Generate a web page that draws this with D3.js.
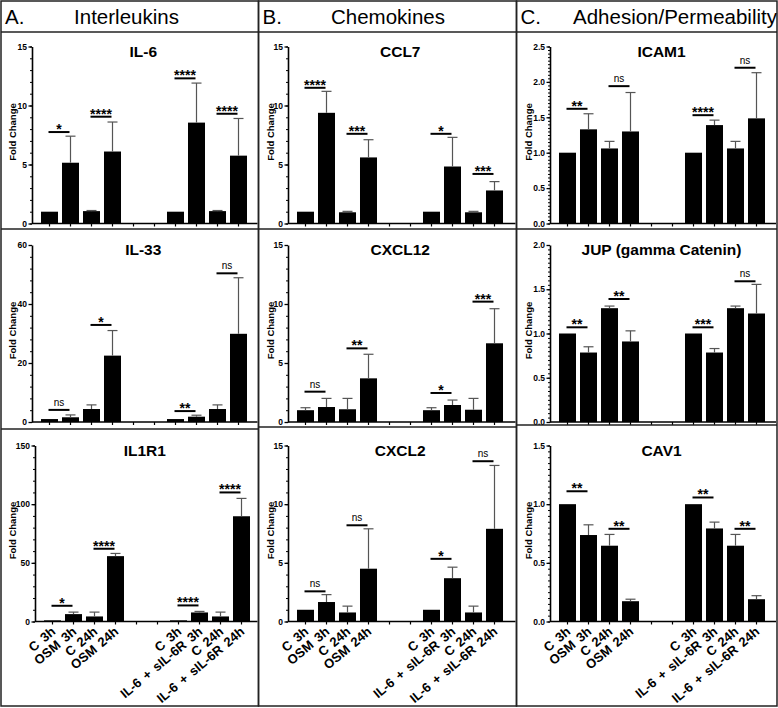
<!DOCTYPE html>
<html>
<head>
<meta charset="utf-8">
<script src="https://cdn.jsdelivr.net/npm/d3@7"></script>
<style>
  body { margin: 0; background: #fff; }
  svg { display: block; font-family: "Liberation Sans", Arial, Helvetica, sans-serif; }
</style>
</head>
<body>
<svg id="chart" width="778" height="708"></svg>
<script>
// x categories, slots 4 and 5 are the empty spacers between the two treatments
const xLabels = ["C 3h", "OSM 3h", "C 24h", "OSM 24h", "", "", "C 3h", "IL-6 + sIL-6R 3h", "C 24h", "IL-6 + sIL-6R 24h"];
const sigPairs = [[0, 1], [2, 3], [6, 7], [8, 9]];

const sectionLetters = ["A.", "B.", "C."];
const sectionTitles = ["Interleukins", "Chemokines", "Adhesion/Permeability"];

// A. Interleukins
const il6Mean = [1.0, 5.15, 1.05, 6.1, null, null, 1.0, 8.55, 1.05, 5.75];
const il6Err = [0, 2.25, 0.05, 2.5, null, null, 0, 3.35, 0.05, 3.15];
const il6Sig = ["*", "****", "****", "****"];
const il6SigAt = [7.75, 9.05, 12.3, 9.3];
const il6Ticks = [0, 5, 10, 15];

const il33Mean = [1.0, 1.6, 4.4, 22.5, null, null, 1.0, 1.8, 4.4, 29.9];
const il33Err = [0, 0.8, 1.4, 8.5, null, null, 0, 0.5, 1.4, 19.0];
const il33Sig = ["ns", "*", "**", "ns"];
const il33SigAt = [4.1, 32.9, 3.7, 50.4];
const il33Ticks = [0, 20, 40, 60];

const il1r1Mean = [1.0, 6.3, 4.3, 55.7, null, null, 1.0, 7.7, 4.3, 89.7];
const il1r1Err = [0, 1.7, 3.7, 2.3, null, null, 0, 0.9, 3.7, 15.2];
const il1r1Sig = ["*", "****", "****", "****"];
const il1r1SigAt = [13.4, 62, 13.7, 110];
const il1r1Ticks = [0, 50, 100, 150];

// B. Chemokines
const ccl7Mean = [1.0, 9.38, 0.95, 5.6, null, null, 1.0, 4.83, 0.95, 2.8];
const ccl7Err = [0, 1.82, 0.08, 1.5, null, null, 0, 2.47, 0.08, 0.75];
const ccl7Sig = ["****", "***", "*", "***"];
const ccl7SigAt = [11.5, 7.6, 7.6, 4.2];
const ccl7Ticks = [0, 5, 10, 15];

const cxcl12Mean = [1.0, 1.27, 1.08, 3.7, null, null, 1.0, 1.44, 1.04, 6.67];
const cxcl12Err = [0.21, 0.73, 0.92, 2.04, null, null, 0.21, 0.42, 0.96, 2.93];
const cxcl12Sig = ["ns", "**", "*", "***"];
const cxcl12SigAt = [2.57, 6.24, 2.46, 10.2];
const cxcl12Ticks = [0, 5, 10, 15];

const cxcl2Mean = [1.0, 1.66, 0.77, 4.5, null, null, 1.0, 3.69, 0.77, 7.9];
const cxcl2Err = [0, 0.63, 0.54, 3.4, null, null, 0, 0.94, 0.54, 5.4];
const cxcl2Sig = ["ns", "ns", "*", "ns"];
const cxcl2SigAt = [2.57, 8.2, 5.34, 13.66];
const cxcl2Ticks = [0, 5, 10, 15];

// C. Adhesion / Permeability
const icam1Mean = [1.0, 1.33, 1.06, 1.3, null, null, 1.0, 1.39, 1.06, 1.485];
const icam1Err = [0, 0.22, 0.1, 0.55, null, null, 0, 0.07, 0.1, 0.645];
const icam1Sig = ["**", "ns", "****", "ns"];
const icam1SigAt = [1.62, 1.94, 1.53, 2.2];
const icam1Ticks = [0, 0.5, 1.0, 1.5, 2.0, 2.5];

const jupMean = [1.0, 0.785, 1.286, 0.91, null, null, 1.0, 0.785, 1.286, 1.226];
const jupErr = [0, 0.065, 0.024, 0.12, null, null, 0, 0.045, 0.024, 0.329];
const jupSig = ["**", "**", "***", "ns"];
const jupSigAt = [1.07, 1.39, 1.07, 1.59];
const jupTicks = [0, 0.5, 1.0, 1.5, 2.0];

const cav1Mean = [1.0, 0.737, 0.646, 0.173, null, null, 1.0, 0.793, 0.646, 0.19];
const cav1Err = [0, 0.087, 0.096, 0.017, null, null, 0, 0.054, 0.096, 0.03];
const cav1Sig = ["**", "**", "**", "**"];
const cav1SigAt = [1.11, 0.79, 1.057, 0.79];
const cav1Ticks = [0, 0.5, 1.0, 1.5];

const intFmt = d3.format("d");
const decFmt = d3.format(".1f");

const panels = [
    [
        { name: "IL-6", mean: il6Mean, err: il6Err, sig: il6Sig, sigAt: il6SigAt, ticks: il6Ticks, fmt: intFmt },
        { name: "IL-33", mean: il33Mean, err: il33Err, sig: il33Sig, sigAt: il33SigAt, ticks: il33Ticks, fmt: intFmt },
        { name: "IL1R1", mean: il1r1Mean, err: il1r1Err, sig: il1r1Sig, sigAt: il1r1SigAt, ticks: il1r1Ticks, fmt: intFmt }
    ],
    [
        { name: "CCL7", mean: ccl7Mean, err: ccl7Err, sig: ccl7Sig, sigAt: ccl7SigAt, ticks: ccl7Ticks, fmt: intFmt },
        { name: "CXCL12", mean: cxcl12Mean, err: cxcl12Err, sig: cxcl12Sig, sigAt: cxcl12SigAt, ticks: cxcl12Ticks, fmt: intFmt },
        { name: "CXCL2", mean: cxcl2Mean, err: cxcl2Err, sig: cxcl2Sig, sigAt: cxcl2SigAt, ticks: cxcl2Ticks, fmt: intFmt }
    ],
    [
        { name: "ICAM1", mean: icam1Mean, err: icam1Err, sig: icam1Sig, sigAt: icam1SigAt, ticks: icam1Ticks, fmt: decFmt },
        { name: "JUP (gamma Catenin)", mean: jupMean, err: jupErr, sig: jupSig, sigAt: jupSigAt, ticks: jupTicks, fmt: decFmt },
        { name: "CAV1", mean: cav1Mean, err: cav1Err, sig: cav1Sig, sigAt: cav1SigAt, ticks: cav1Ticks, fmt: decFmt }
    ]
];

// layout
const cols = [
    { x0: 1, x1: 258.5, axisX: [32, 32, 35], rowSep: [229, 429], titleX: 125.5, minor: 5 },
    { x0: 258.5, x1: 516.5, axisX: [288, 288, 288], rowSep: [229, 427], titleX: 129.5, minor: 5 },
    { x0: 516.5, x1: 777, axisX: [550, 550, 550], rowSep: [229, 425], titleX: 158.5, minor: 10 }
];
const rowTop = [46.5, 245, 445.5];
const rowBottom = [223.5, 422, 621.5];
const headerBottom = 32;
const figBottom = 706;

const svg = d3.select("#chart");

const drawPanel = (g, p, axisX, right, yTop, yBot, minor, showLabels) => {
    const x = d3.scaleBand()
        .domain(d3.range(xLabels.length))
        .range([axisX + 7, axisX + 217])
        .paddingInner(0.19)
        .paddingOuter(0.095);
    const yMax = d3.max(p.ticks);
    const y = d3.scaleLinear().domain([0, yMax]).range([yBot, yTop]);
    const bw = x.bandwidth();
    const cx = i => x(i) + bw / 2;

    const idx = d3.range(xLabels.length).filter(i => p.mean[i] != null);

    // bars
    g.selectAll("rect.bar")
        .data(idx)
        .join("rect")
        .attr("class", "bar")
        .attr("x", i => x(i))
        .attr("width", bw)
        .attr("y", i => y(p.mean[i]))
        .attr("height", i => yBot - y(p.mean[i]))
        .attr("fill", "#000");

    // error bars (upper only)
    const eb = g.selectAll("g.err")
        .data(idx.filter(i => p.err[i] > 0))
        .join("g")
        .attr("class", "err")
        .attr("stroke", "#555")
        .attr("stroke-width", 1.2);
    eb.append("line")
        .attr("x1", cx).attr("x2", cx)
        .attr("y1", i => y(p.mean[i]))
        .attr("y2", i => y(p.mean[i] + p.err[i]));
    eb.append("line")
        .attr("x1", i => cx(i) - 5).attr("x2", i => cx(i) + 5)
        .attr("y1", i => y(p.mean[i] + p.err[i]))
        .attr("y2", i => y(p.mean[i] + p.err[i]));

    // y axis with minor ticks
    const step = p.ticks[1] - p.ticks[0];
    const minorVals = d3.range(0, yMax + step / (2 * minor), step / minor);
    g.append("g")
        .attr("transform", `translate(${axisX},0)`)
        .call(d3.axisLeft(y).tickValues(minorVals).tickSize(2).tickSizeOuter(0).tickFormat(""))
        .call(a => a.select(".domain").remove())
        .call(a => a.selectAll("line").attr("stroke-width", 1));
    g.append("g")
        .attr("transform", `translate(${axisX},0)`)
        .call(d3.axisLeft(y).tickValues(p.ticks).tickSize(3.5).tickSizeOuter(0).tickPadding(1.5).tickFormat(p.fmt))
        .call(a => a.select(".domain").attr("stroke-width", 1.6))
        .call(a => a.selectAll("line").attr("stroke-width", 1.3))
        .call(a => a.selectAll("text")
            .attr("font-size", 8.5)
            .attr("font-weight", "bold")
            .attr("fill", "#000"));

    // x axis
    const xa = g.append("g")
        .attr("transform", `translate(0,${yBot})`)
        .call(d3.axisBottom(x).tickSize(3).tickSizeOuter(0).tickFormat(i => showLabels ? xLabels[i] : ""));
    xa.select(".domain").remove();
    xa.selectAll("line").attr("stroke-width", 1.2);
    xa.append("line")
        .attr("x1", axisX).attr("x2", right - 1)
        .attr("y1", 0).attr("y2", 0)
        .attr("stroke", "#000")
        .attr("stroke-width", 1.6);
    if (showLabels) {
        xa.selectAll(".tick text")
            .attr("x", 0).attr("y", 0)
            .attr("dy", "0.35em")
            .attr("text-anchor", "end")
            .attr("transform", "translate(1,8) rotate(-40)")
            .attr("font-size", 13)
            .attr("font-weight", "bold")
            .attr("word-spacing", 2)
            .attr("fill", "#000");
    }

    // significance brackets
    const sg = g.selectAll("g.sig")
        .data(sigPairs.map((pr, k) => ({ a: pr[0], b: pr[1], label: p.sig[k], at: p.sigAt[k] })))
        .join("g")
        .attr("class", "sig");
    sg.append("line")
        .attr("x1", d => cx(d.a) - 1).attr("x2", d => cx(d.b) - 1)
        .attr("y1", d => y(d.at)).attr("y2", d => y(d.at))
        .attr("stroke", "#000")
        .attr("stroke-width", 2);
    sg.append("text")
        .attr("x", d => (cx(d.a) + cx(d.b)) / 2 - 1)
        .attr("y", d => d.label === "ns" ? y(d.at) - 4 : y(d.at) + 2)
        .attr("text-anchor", "middle")
        .attr("font-size", d => d.label === "ns" ? 10 : 14)
        .attr("font-weight", d => d.label === "ns" ? "normal" : "bold")
        .text(d => d.label);

    // title
    g.append("text")
        .attr("x", (axisX + right) / 2 - 2)
        .attr("y", yTop + 10)
        .attr("text-anchor", "middle")
        .attr("font-size", 15.5)
        .attr("font-weight", "bold")
        .text(p.name);
};

cols.forEach((c, ci) => {
    const col = svg.append("g");

    // header
    col.append("text")
        .attr("x", c.x0 + 4)
        .attr("y", 24)
        .attr("font-size", 20.5)
        .text(sectionLetters[ci]);
    col.append("text")
        .attr("x", c.x0 + c.titleX)
        .attr("y", 24)
        .attr("text-anchor", "middle")
        .attr("font-size", 20.5)
        .text(sectionTitles[ci]);

    panels[ci].forEach((p, ri) => {
        const g = col.append("g");
        drawPanel(g, p, c.axisX[ri], c.x1, rowTop[ri], rowBottom[ri], c.minor, ri === 2);
        g.append("text")
            .attr("transform", `translate(${c.x0 + 15},${(rowTop[ri] + rowBottom[ri]) / 2 - 3}) rotate(-90)`)
            .attr("text-anchor", "middle")
            .attr("font-size", 9.5)
            .attr("font-weight", "bold")
            .text("Fold Change");
    });

    // borders
    const border = col.append("g")
        .attr("stroke", "#222")
        .attr("stroke-width", 1.5)
        .attr("fill", "none");
    border.append("rect")
        .attr("x", c.x0).attr("y", 1)
        .attr("width", c.x1 - c.x0).attr("height", figBottom - 1);
    [headerBottom, ...c.rowSep].forEach(yy => {
        border.append("line")
            .attr("x1", c.x0).attr("x2", c.x1)
            .attr("y1", yy).attr("y2", yy);
    });
});
</script>
</body>
</html>
